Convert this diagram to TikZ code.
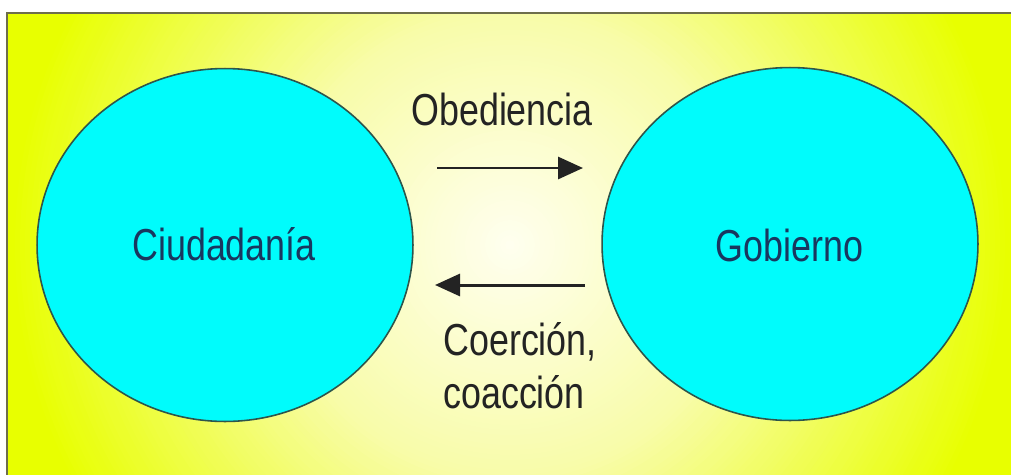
\documentclass[tikz,border=0pt]{standalone}
\usepackage{fontspec}
\newfontfamily\diagfont[FakeStretch=0.8]{Liberation Sans}
\usetikzlibrary{arrows.meta, shapes.geometric, positioning}
\definecolor{glowc}{RGB}{255,255,240}
\definecolor{glowb}{RGB}{248,252,170}
\definecolor{limey}{RGB}{232,255,0}
\definecolor{framegray}{RGB}{110,110,75}
\definecolor{disccyan}{RGB}{0,252,252}
\definecolor{discline}{RGB}{45,85,75}
\definecolor{disctext}{RGB}{25,55,95}
\definecolor{flowgray}{RGB}{35,35,35}
\tikzset{
  disc/.style={ellipse, draw=discline, line width=0.9pt, fill=disccyan,
    minimum width=7.52cm, minimum height=7.06cm, inner sep=0pt},
  disclabel/.style={anchor=base, inner sep=0pt, text=disctext,
    font=\diagfont\fontsize{25.5pt}{30pt}\selectfont},
  flowlabel/.style={inner sep=0pt, text=flowgray,
    font=\diagfont\fontsize{25.5pt}{30pt}\selectfont},
  flow/.style={draw=flowgray, line width=1.7pt,
    -{Triangle[length=0.5cm,width=0.44cm]}}
}
\begin{document}
\begin{tikzpicture}[x=0.02cm, y=-0.02cm]
\useasboundingbox (0,0) rectangle (1011,474);
% background panel, glow from the middle
\begin{scope}
\clip (8,14) rectangle (1030,490);
\fill[limey] (8,14) rectangle (1030,490);
\foreach \r in {500,495,...,230}{
  \pgfmathtruncatemacro\p{(\r-230)/2.7}
  \fill[limey!\p!glowb] (510,245) circle (\r);
}
\foreach \r in {225,220,...,5}{
  \pgfmathtruncatemacro\p{\r/2.3}
  \fill[glowb!\p!glowc] (510,245) circle (\r);
}
\end{scope}
\draw[framegray, line width=1.4pt] (7,490) -- (7,13) -- (1030,13);
% the two parties
\node[disc] (ciud) at (225,245) {};
\node[disc] (gob) at (790,244) {};
\node[disclabel] (ciudtxt) at (224,260) {Ciudadanía};
\node[disclabel] (gobtxt) at (789.5,261) {Gobierno};
% relations
\coordinate (obfrom) at (437,168);
\coordinate (obto) at (583,168);
\coordinate (cofrom) at (585,285);
\coordinate (coto) at (435,285);
\draw[flow] (obfrom) -- (obto);
\draw[flow] (cofrom) -- (coto);
\node[flowlabel, anchor=base] (obed) at (502,125) {Obediencia};
\node[flowlabel, anchor=base west, align=left] (coer) at (443,408) {Coerción,\\coacción};
\end{tikzpicture}
\end{document}
